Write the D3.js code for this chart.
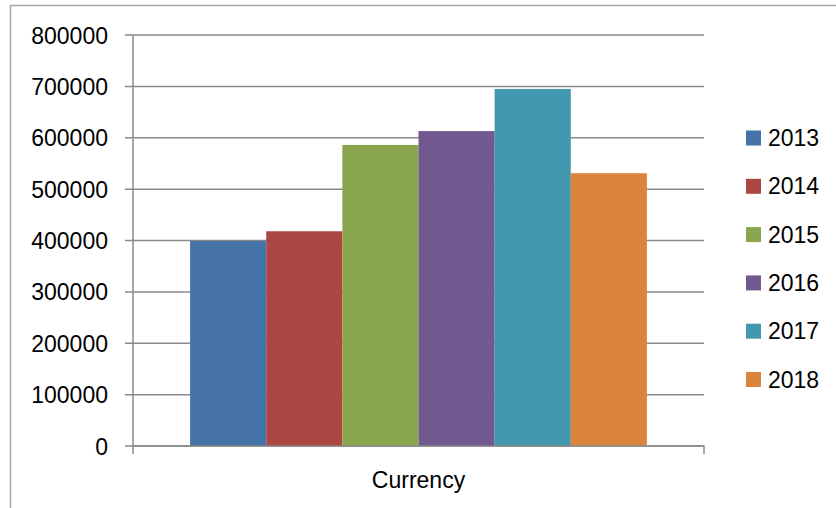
<!DOCTYPE html>
<meta charset="utf-8">
<style>
body { margin: 0; background: #fff; }
text { font-family: "Liberation Sans", "Open Sans", sans-serif; fill: #000; }
.grid line { stroke: #8a8a8a; stroke-width: 1.5px; }
.axis path, .axis line { stroke: #8a8a8a; stroke-width: 1.5px; }
</style>
<svg width="836" height="508"></svg>
<script src="https://cdn.jsdelivr.net/npm/d3@7"></script>
<script>
var categories = ["Currency"];
var years = ["2013", "2014", "2015", "2016", "2017", "2018"];
var values = [399000, 418000, 586000, 613000, 695000, 531000];
var colors = ["#4572a7", "#aa4643", "#89a54e", "#71588f", "#4198af", "#db843d"];
var yTicks = [0, 100000, 200000, 300000, 400000, 500000, 600000, 700000, 800000];

var svg = d3.select("svg"),
    plotLeft = 133, plotRight = 704, plotTop = 35, plotBottom = 446;

// chart frame
svg.append("rect")
    .attr("x", 10.5).attr("y", 5.5)
    .attr("width", 840).attr("height", 520)
    .attr("fill", "none")
    .attr("stroke", "#a6a6a6")
    .attr("stroke-width", 1.5);

var y = d3.scaleLinear().domain([0, 800000]).range([plotBottom, plotTop]);
var x0 = d3.scaleBand().domain(categories).range([plotLeft, plotRight]).paddingInner(0).paddingOuter(0);
// gap width 150% of a bar
var groupW = x0.bandwidth() * 6 / 7.5;
var x1 = d3.scaleBand().domain(years)
    .range([x0("Currency") + (x0.bandwidth() - groupW) / 2, x0("Currency") + (x0.bandwidth() + groupW) / 2]);

// gridlines
svg.append("g").attr("class", "grid")
  .selectAll("line").data(yTicks).join("line")
    .attr("x1", plotLeft - 8).attr("x2", plotRight)
    .attr("y1", function(d) { return y(d); })
    .attr("y2", function(d) { return y(d); });

// y axis
svg.append("g").attr("class", "axis")
    .attr("transform", "translate(" + plotLeft + ",0)")
    .call(d3.axisLeft(y).tickValues(yTicks).tickSize(0).tickPadding(25).tickFormat(d3.format("d")))
    .call(function(g) { g.select(".domain").remove(); })
    .call(function(g) { g.selectAll("text").attr("font-size", 23).attr("font-family", null).attr("dy", "0.35em"); });

svg.append("line")
    .attr("x1", plotLeft).attr("x2", plotLeft).attr("y1", plotTop).attr("y2", plotBottom)
    .attr("stroke", "#8a8a8a").attr("stroke-width", 1.5);

// bars
svg.append("g").selectAll("rect").data(values).join("rect")
    .attr("x", function(d, i) { return x1(years[i]); })
    .attr("y", function(d) { return y(d); })
    .attr("width", x1.bandwidth())
    .attr("height", function(d) { return y(0) - y(d); })
    .attr("fill", function(d, i) { return colors[i]; });

// x axis
svg.append("g").attr("class", "axis")
    .attr("transform", "translate(0," + plotBottom + ")")
    .call(d3.axisBottom(x0).tickSize(0).tickPadding(0).tickFormat(""))
    .call(function(g) { g.select(".domain").attr("d", "M" + plotLeft + ",8V0H" + plotRight + "V8"); });

svg.append("text")
    .attr("x", x0("Currency") + x0.bandwidth() / 2)
    .attr("y", 488)
    .attr("text-anchor", "middle")
    .attr("font-size", 23)
    .text(categories[0]);

// legend
var legend = svg.append("g").selectAll("g").data(years).join("g")
    .attr("transform", function(d, i) { return "translate(746," + (138 + i * 48.3) + ")"; });
legend.append("rect")
    .attr("x", 0).attr("y", -7.5).attr("width", 15).attr("height", 15)
    .attr("fill", function(d, i) { return colors[i]; });
legend.append("text")
    .attr("x", 22).attr("dy", "0.35em")
    .attr("font-size", 23)
    .text(function(d) { return d; });
</script>
